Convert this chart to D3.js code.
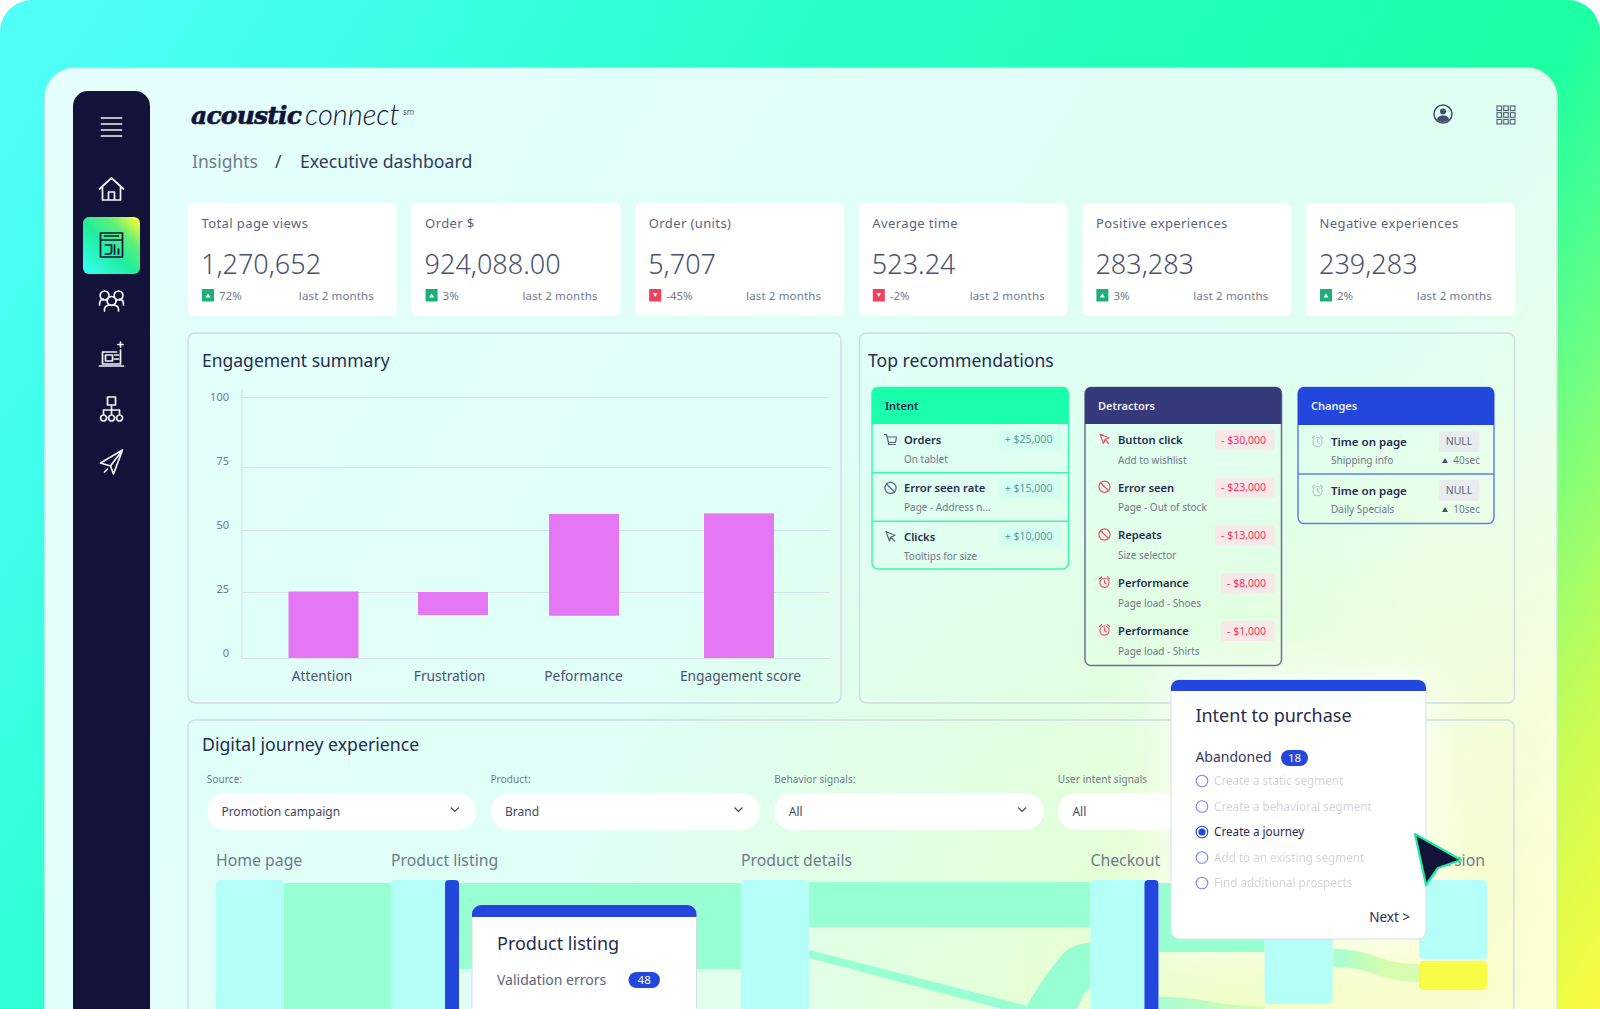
<!DOCTYPE html>
<html>
<head>
<meta charset="utf-8">
<title>acoustic connect - Executive dashboard</title>
<script src="https://cdn.jsdelivr.net/npm/d3@7"></script>
<style>
  html, body { margin: 0; padding: 0; background: #fff; }
  svg { display: block; }
  text { font-family: "Noto Sans", sans-serif; }
</style>
</head>
<body>
<svg id="vis" width="1600" height="1009"></svg>
<script>
'use strict';

// KPI cards
var kpiLabels = ['Total page views', 'Order $', 'Order (units)', 'Average time', 'Positive experiences', 'Negative experiences'];
var kpiValues = ['1,270,652', '924,088.00', '5,707', '523.24', '283,283', '239,283'];
var kpiDeltas = [72, 3, -45, -2, 3, 2];
var kpiPeriod = 'last 2 months';

// Engagement summary, floating bars
var barCategories = ['Attention', 'Frustration', 'Peformance', 'Engagement score'];
var barLow = [0, 16.3, 16, 0];
var barHigh = [25.2, 25, 56.4, 56.6];
var yTicks = [0, 25, 50, 75, 100];

// Top recommendations
var intentTitles = ['Orders', 'Error seen rate', 'Clicks'];
var intentSubs = ['On tablet', 'Page - Address n...', 'Tooltips for size'];
var intentAmounts = ['+ $25,000', '+ $15,000', '+ $10,000'];
var detractorTitles = ['Button click', 'Error seen', 'Repeats', 'Performance', 'Performance'];
var detractorSubs = ['Add to wishlist', 'Page - Out of stock', 'Size selector', 'Page load - Shoes', 'Page load - Shirts'];
var detractorAmounts = ['- $30,000', '- $23,000', '- $13,000', '- $8,000', '- $1,000'];
var changeTitles = ['Time on page', 'Time on page'];
var changeSubs = ['Shipping info', 'Daily Specials'];
var changeValues = ['NULL', 'NULL'];
var changeDeltas = ['40sec', '10sec'];

// Digital journey filters
var filterLabels = ['Source:', 'Product:', 'Behavior signals:', 'User intent signals'];
var filterValues = ['Promotion campaign', 'Brand', 'All', 'All'];

// Journey stages, positions and flows in percent of the journey area
var stageLabels = ['Home page', 'Product listing', 'Product details', 'Checkout', '', 'Conversion'];
var stageStart = [0, 13.77, 41.3, 68.8, 82.5, 94.65];
var nodeStage = [0, 1, 2, 3, 4, 5];
var nodeTop = [0, 0, 0, 0, 0, 0];
var nodeBottom = [110, 110, 110, 110, 96.1, 61.2];
var dropStages = [1, 3];
var flowFrom = [5.35, 19.1, 46.66, 74.2];
var flowTo = [13.77, 41.3, 68.8, 82.5];
var flowTop = [2.3, 2.3, 1.6, 2.3];
var flowBottom = [110, 69, 36.4, 55.8];
var thinX = [46.66, 68.8];
var thinTop = [54.3, 110];
var thinBottom = [60.5, 118];
var riseX = [63.65, 65.6, 67, 67.6, 68.4, 68.8];
var riseTop = [100, 70, 54, 51, 49, 48];
var riseBottom = [100, 100, 100, 100, 87, 84];
var lowX = [74.2, 82.5];
var lowTop = [90.7, 98];
var lowBottom = [110, 110];
var exitX = [87.9, 94.65];
var exitTop = [53.5, 65.1];
var exitBottom = [67.4, 79];
var yellowNode = [62.8, 85.3];

// Intent popup
var popupOptions = ['Create a static segment', 'Create a behavioral segment', 'Create a journey', 'Add to an existing segment', 'Find additional prospects'];
var popupSelected = 2;

var INK = '#262c4f', GREY = '#5b667c', SOFT = '#6f7a8c', BLUE = '#2347dd', NAVY = '#131339';
var GREEN = '#1affab', INDIGO = '#36397a', FLOW = '#98ffd2', NODE = '#b5fff9';

var svg = d3.select('#vis');
var defs = svg.append('defs');

// small helper, y is the vertical centre of the text
function label(parent, x, y, str, size, fill, opts) {
    opts = opts || {};
    return parent.append('text')
        .attr('x', x)
        .attr('y', y)
        .attr('dy', '.35em')
        .attr('font-size', size)
        .attr('fill', fill)
        .attr('font-weight', opts.weight || 400)
        .attr('text-anchor', opts.anchor || 'start')
        .attr('opacity', opts.opacity === undefined ? 1 : opts.opacity)
        .style('letter-spacing', opts.spacing || null)
        .text(str);
}

function gradient(id, stops, x1, y1, x2, y2) {
    var g = defs.append('linearGradient').attr('id', id)
        .attr('gradientUnits', 'userSpaceOnUse')
        .attr('x1', x1).attr('y1', y1).attr('x2', x2).attr('y2', y2);
    stops.forEach(function (s) {
        g.append('stop').attr('offset', s[0]).attr('stop-color', s[1]);
    });
}

gradient('bg', [[0, '#52fff8'], [0.15, '#40feec'], [0.285, '#30ffd4'], [0.4, '#28ffc6'], [0.6, '#1effb2'], [0.715, '#1cffa2'], [0.807, '#6bff85'], [0.908, '#c8fc55'], [1, '#fbfb40']], 0, 0, 1600, 1009);
gradient('tile', [[0, '#36fff0'], [0.45, '#1fee9c'], [0.72, '#5cf07a'], [1, '#fbfb38']], 86, 272, 138, 219);
gradient('exit', [[0, '#a4ffcf'], [0.6, '#d6fcb0'], [1, '#d8fcb0']], 1334, 0, 1419, 0);
gradient('low', [[0, '#a8fdd0'], [1, '#dcfbb0']], 1159, 0, 1265, 0);
var warm = defs.append('radialGradient').attr('id', 'warm')
    .attr('gradientUnits', 'userSpaceOnUse').attr('cx', 1250).attr('cy', 1040).attr('r', 700);
warm.append('stop').attr('offset', 0).attr('stop-color', '#fbfb60').attr('stop-opacity', 0.26);
warm.append('stop').attr('offset', 1).attr('stop-color', '#fbfb60').attr('stop-opacity', 0);
defs.append('filter').attr('id', 'glow').attr('x', '-30%').attr('y', '-30%').attr('width', '160%').attr('height', '160%')
    .append('feGaussianBlur').attr('stdDeviation', 22);
defs.append('clipPath').attr('id', 'pageClip').append('rect').attr('width', 1600).attr('height', 1009);

// background and glass panel
svg.append('rect').attr('width', 1600).attr('height', 1040).attr('rx', 32).attr('fill', 'url(#bg)');
svg.append('rect').attr('x', 45).attr('y', 68).attr('width', 1512).attr('height', 1000).attr('rx', 30)
    .attr('fill', '#fff').attr('fill-opacity', 0.86).attr('stroke', '#d4e6e6').attr('stroke-width', 1.5);
svg.append('rect').attr('x', 46).attr('y', 69).attr('width', 1510).attr('height', 1000).attr('rx', 30).attr('fill', 'url(#warm)');
svg.append('rect').attr('x', 1157).attr('y', 666).attr('width', 283).attr('height', 287)
    .attr('fill', '#fff').attr('opacity', 0.6).attr('filter', 'url(#glow)');

drawSidebar();
drawHeader();
drawKpis();
drawBars();
drawRecommendations();
drawJourney();
drawPopup();

function drawSidebar() {
    var g = svg.append('g');
    g.append('rect').attr('x', 73).attr('y', 91).attr('width', 77).attr('height', 960).attr('rx', 15).attr('fill', NAVY);
    g.append('rect').attr('x', 83).attr('y', 217).attr('width', 57).attr('height', 57).attr('rx', 6).attr('fill', 'url(#tile)');

    function icon(cy, d, stroke) {
        g.append('path').attr('transform', 'translate(111.5,' + cy + ')').attr('d', d)
            .attr('fill', 'none').attr('stroke', stroke || '#f2f4f8').attr('stroke-width', 1.7)
            .attr('stroke-linecap', 'round').attr('stroke-linejoin', 'round');
    }
    icon(127, 'M-10,-9H10M-10,-3H10M-10,3H10M-10,9H10');
    icon(189, 'M-12,0L0,-11L12,0M-9,-2V11H9V-2M-3,11V3H3V11');
    icon(245, 'M-11,-12H11V12H-11ZM-11,-5H11M-7,-9H7M-6,9H-2Q0,9 0,6V0H-6M3,0V9M7,4V9', NAVY);
    icon(298, 'M-7,-7a4.5,4.5 0 1,0 .1,0M7,-7a4.5,4.5 0 1,0 .1,0M0,-1.5a4.5,4.5 0 1,0 .1,0M-12,7Q-12,1 -8,1M12,7Q12,1 8,1M-7,13V11Q-7,7 0,7Q7,7 7,11V13');
    icon(356, 'M-9,-4H5M9,-6V8H-9V-4M-12,10H12M-6,-1H1V5H-6ZM3,-1H7M3,3H7M9,-14V-9M6.5,-11.5H11.5');
    icon(410, 'M-4,-13H4V-5H-4ZM0,-5V0M-8,5V0H8V5M0,0V5M-8,5a3,3 0 1,0 .1,0M0,5a3,3 0 1,0 .1,0M8,5a3,3 0 1,0 .1,0');
    icon(462, 'M11,-12L-11,1L-1,4L2,12ZM11,-12L-1,4M-4,7L-7,10');
}

function drawHeader() {
    var g = svg.append('g');
    label(g, 191, 115, 'acoustic', 25, NAVY, { weight: 700, spacing: '-0.8px' })
        .style('font-family', '"DejaVu Serif", serif').style('font-style', 'italic')
        .attr('stroke', NAVY).attr('stroke-width', 0.6);
    label(g, 305, 115, 'connect', 29, NAVY, { weight: 300 }).style('font-family', 'Lato, sans-serif').style('font-style', 'italic');
    label(g, 403, 112, 'sm', 8, GREY);
    label(g, 192, 162, 'Insights', 17.5, SOFT);
    label(g, 275, 162, '/', 17.5, '#3a4260');
    label(g, 300, 162, 'Executive dashboard', 17.7, '#343b5c');

    // user and apps icons
    var user = g.append('g').attr('transform', 'translate(1443,114)');
    user.append('circle').attr('r', 9).attr('fill', 'none').attr('stroke', '#454e68').attr('stroke-width', 1.5);
    user.append('circle').attr('cy', -2.5).attr('r', 3).attr('fill', '#454e68');
    user.append('path').attr('d', 'M-6,6Q-6,1.5 0,1.5Q6,1.5 6,6Q0,10 -6,6Z').attr('fill', '#454e68');
    var cells = d3.range(9);
    g.append('g').selectAll('rect').data(cells).enter().append('rect')
        .attr('x', function (d) { return 1497 + (d % 3) * 6.7; })
        .attr('y', function (d) { return 106 + Math.floor(d / 3) * 6.7; })
        .attr('width', 4.6).attr('height', 4.6)
        .attr('fill', 'none').attr('stroke', '#5b667c').attr('stroke-width', 1.2);
}

function drawKpis() {
    var cardX = d3.scalePoint().domain(d3.range(kpiLabels.length)).range([188, 1306]);
    var cards = svg.append('g').selectAll('g').data(kpiLabels).enter().append('g')
        .attr('transform', function (d, i) { return 'translate(' + cardX(i) + ',203)'; });
    cards.append('rect').attr('width', 209).attr('height', 113).attr('rx', 6).attr('fill', '#fff');
    cards.each(function (d, i) {
        var c = d3.select(this);
        var up = kpiDeltas[i] >= 0;
        label(c, 13.5, 20, d, 13, GREY, { spacing: '.4px' });
        label(c, 13, 62, kpiValues[i], 27, '#49536d', { weight: 300 });
        c.append('rect').attr('x', 14).attr('y', 86).attr('width', 12).attr('height', 12.5).attr('fill', up ? '#1dae7a' : '#f0405a');
        c.append('path').attr('d', up ? 'M17.5,94.5H22.5L20,90.5Z' : 'M17.5,90H22.5L20,94Z').attr('fill', '#fff');
        label(c, 31, 92.5, kpiDeltas[i] + '%', 11.5, SOFT);
        label(c, 186, 92.5, kpiPeriod, 11.5, SOFT, { anchor: 'end', spacing: '.15px' });
    });
}

function panel(x, y, w, h) {
    svg.append('rect').attr('x', x).attr('y', y).attr('width', w).attr('height', h).attr('rx', 7)
        .attr('fill', 'none').attr('stroke', '#cfdde5').attr('stroke-width', 1.5);
}

function drawBars() {
    panel(188, 333, 653, 370);
    label(svg, 202, 361, 'Engagement summary', 17.5, INK);

    var y = d3.scaleLinear().domain(yTicks).range([658, 592, 530, 467, 397]);
    var x = d3.scaleOrdinal().domain(barCategories).range([323.5, 453, 584, 739]);
    // the tick labels sit on an even spacing that is not quite the one of the grid lines
    var yLabel = d3.scaleLinear().domain([0, 100]).range([653, 397]);
    var labelShift = [-2, -4, -1, 1];
    var barWidth = 70;

    var yAxis = svg.append('g').attr('transform', 'translate(242,0)')
        .call(d3.axisLeft(y).tickValues(yTicks).tickSize(-588).tickPadding(13));
    yAxis.select('.domain').remove();
    yAxis.selectAll('.tick line').attr('stroke', '#d4e4e6').attr('stroke-width', 1.2);
    yAxis.selectAll('.tick text').attr('fill', SOFT).attr('font-size', 11)
        .attr('y', function (d) { return yLabel(d) - y(d); });
    svg.append('line').attr('x1', 242).attr('x2', 242).attr('y1', 390).attr('y2', 658)
        .attr('stroke', '#d4e4e6').attr('stroke-width', 1.2);

    svg.append('g').selectAll('.bar').data(barCategories).enter().append('rect')
        .attr('class', 'bar')
        .attr('x', function (d) { return x(d) - barWidth / 2; })
        .attr('y', function (d, i) { return y(barHigh[i]); })
        .attr('width', barWidth)
        .attr('height', function (d, i) { return y(barLow[i]) - y(barHigh[i]); })
        .attr('fill', '#e577f5');

    var xAxis = svg.append('g').attr('transform', 'translate(0,658)')
        .call(d3.axisBottom(x).tickSize(0).tickPadding(13));
    xAxis.select('.domain').remove();
    xAxis.selectAll('.tick text').attr('fill', '#4a5470').attr('font-size', 13.8)
        .attr('dx', function (d, i) { return labelShift[i]; });
}

function pillRow(parent, right, cy, str, bg, fg) {
    var t = label(parent, right - 8.6, cy, str, 10.5, fg, { anchor: 'end' });
    var w = t.node().getComputedTextLength();
    parent.insert('rect', 'text').attr('x', right - 8.6 - w - 6).attr('y', cy - 10).attr('width', w + 14.6).attr('height', 20).attr('rx', 2).attr('fill', bg);
}

function rowIcon(parent, x, cy, kind, color, opacity) {
    var g = parent.append('g').attr('transform', 'translate(' + x + ',' + cy + ')')
        .attr('fill', 'none').attr('stroke', color).attr('stroke-width', 1.2).attr('opacity', opacity || 1)
        .attr('stroke-linecap', 'round').attr('stroke-linejoin', 'round');
    if (kind === 'cart') {
        g.append('path').attr('d', 'M-6,-5H-4L-2,3H5L6,-2.5H-3.5M-2,3V5H5');
    } else if (kind === 'ban') {
        g.append('circle').attr('r', 5.6);
        g.append('path').attr('d', 'M-4,-4L4,4');
    } else if (kind === 'click') {
        g.append('path').attr('d', 'M-4.5,-5L4.5,-1L0.5,0.5L-1,4.5ZM0.5,0.5L4,4.5');
    } else {
        g.append('circle').attr('cy', 0.6).attr('r', 4.6);
        g.append('path').attr('d', 'M0,-2V0.6L1.8,1.8M-5,-3.5L-3,-5.3M5,-3.5L3,-5.3');
    }
}

function recCard(x, w, h, headH, title, color, border, headInk) {
    var g = svg.append('g');
    g.append('rect').attr('x', x).attr('y', 387.5).attr('width', w).attr('height', h).attr('rx', 6)
        .attr('fill', 'none').attr('stroke', border).attr('stroke-width', 1.5);
    g.append('path').attr('d', 'M' + x + ',' + (387 + headH) + 'V393a6,6 0 0,1 6,-6H' + (x + w - 6) + 'a6,6 0 0,1 6,6V' + (387 + headH) + 'Z').attr('fill', color);
    label(g, x + 13, 406, title, 11, headInk, { weight: 600 });
    return g;
}

function drawRecommendations() {
    panel(859.5, 333, 655, 370);
    label(svg, 868, 361, 'Top recommendations', 17.6, INK);

    // Intent card
    var a = recCard(872, 196.5, 181.5, 37, 'Intent', GREEN, '#3df5b4', '#1f2a4d');
    var intentIcons = ['cart', 'ban', 'click'];
    var intentRows = d3.scalePoint().domain(d3.range(3)).range([440, 537]);
    intentTitles.forEach(function (t, i) {
        var cy = intentRows(i);
        label(a, 904, cy, t, 11.2, INK, { weight: 600 });
        label(a, 904, cy + 19, intentSubs[i], 10, SOFT);
        pillRow(a, 1061, cy - 0.5, intentAmounts[i], '#d2fff2', '#55a09c');
        rowIcon(a, 890.5, cy - 0.5, intentIcons[i], '#5b667c');
    });
    [472.7, 521.3].forEach(function (sy) {
        a.append('line').attr('x1', 872).attr('x2', 1068.5).attr('y1', sy).attr('y2', sy).attr('stroke', '#3df5b4').attr('stroke-width', 1.5);
    });

    // Detractors card
    var b = recCard(1085, 196.5, 278, 37, 'Detractors', INDIGO, '#6c6f99', '#eef0fb');
    var detractorIcons = ['click', 'ban', 'ban', 'clock', 'clock'];
    var detractorRows = d3.scalePoint().domain(d3.range(5)).range([440, 631]);
    detractorTitles.forEach(function (t, i) {
        var cy = detractorRows(i);
        label(b, 1118, cy, t, 11.2, INK, { weight: 600 });
        label(b, 1118, cy + 20, detractorSubs[i], 10, SOFT);
        pillRow(b, 1274.6, cy, detractorAmounts[i], '#f8e8e8', '#f0355a');
        rowIcon(b, 1104.5, cy - 1, detractorIcons[i], '#f0506a');
    });

    // Changes card
    var c = recCard(1298, 196, 136, 38, 'Changes', BLUE, '#5f82ea', '#eef2ff');
    var changeRows = d3.scalePoint().domain(d3.range(2)).range([441.5, 490.5]);
    changeTitles.forEach(function (t, i) {
        var cy = changeRows(i);
        label(c, 1331, cy, t, 11.5, INK, { weight: 600 });
        label(c, 1331, cy + 19, changeSubs[i], 10, SOFT);
        c.append('rect').attr('x', 1439).attr('y', cy - 10.5).attr('width', 40.5).attr('height', 21).attr('rx', 2).attr('fill', '#e8ecef');
        label(c, 1459, cy - 0.5, changeValues[i], 10.5, GREY, { anchor: 'middle' });
        label(c, 1480, cy + 19, changeDeltas[i], 10, SOFT, { anchor: 'end' });
        c.append('path').attr('transform', 'translate(1445,' + (cy + 19) + ')').attr('d', 'M-3,2.5H3L0,-2.5Z').attr('fill', '#4a5470');
        rowIcon(c, 1317.5, cy, 'clock', '#a9b8c8', 0.8);
    });
    c.append('line').attr('x1', 1298).attr('x2', 1494).attr('y1', 474).attr('y2', 474).attr('stroke', '#5f82ea').attr('stroke-width', 1.5);
}

function drawJourney() {
    panel(188, 720, 1326, 340);
    label(svg, 202, 745, 'Digital journey experience', 17.7, INK);

    var filterX = d3.scalePoint().domain(d3.range(filterLabels.length)).range([206.8, 1057.8]);
    filterLabels.forEach(function (t, i) {
        var x = filterX(i);
        label(svg, x, 779, t, 10, SOFT, { spacing: '.1px' });
        svg.append('rect').attr('x', x).attr('y', 793).attr('width', 269.5).attr('height', 37).attr('rx', 18.5).attr('fill', '#fff');
        label(svg, x + 14.6, 812, filterValues[i], 12, '#3f4868');
        svg.append('path').attr('transform', 'translate(' + (x + 248) + ',810)').attr('d', 'M-4,-2.5L0,1.5L4,-2.5')
            .attr('fill', 'none').attr('stroke', '#3f4868').attr('stroke-width', 1.2);
    });

    var jx = d3.scaleLinear().domain([0, 100]).range([216, 1487]);
    var jy = d3.scaleLinear().domain([0, 100]).range([880, 1009]);
    var nodeWidth = jx(5.35) - jx(0);
    var dropWidth = jx(1.1) - jx(0);
    var g = svg.append('g').attr('clip-path', 'url(#pageClip)');

    var area = d3.area()
        .x(function (d) { return jx(d[0]); })
        .y0(function (d) { return jy(d[1]); })
        .y1(function (d) { return jy(d[2]); });

    function edges(xs, tops, bottoms) {
        return xs.map(function (v, i) { return [v, tops[i], bottoms[i]]; });
    }

    flowFrom.forEach(function (v, i) {
        g.append('path').attr('fill', FLOW)
            .attr('d', area.curve(d3.curveLinear)(edges([v, flowTo[i]], [flowTop[i], flowTop[i]], [flowBottom[i], flowBottom[i]])));
    });
    g.append('path').attr('fill', FLOW).attr('d', area.curve(d3.curveLinear)(edges(thinX, thinTop, thinBottom)));
    g.append('path').attr('fill', FLOW).attr('d', area.curve(d3.curveMonotoneX)(edges(riseX, riseTop, riseBottom)));
    g.append('path').attr('fill', 'url(#low)').attr('d', area.curve(d3.curveBumpX)(edges(lowX, lowTop, lowBottom)));
    g.append('path').attr('fill', 'url(#exit)').attr('d', area.curve(d3.curveBumpX)(edges(exitX, exitTop, exitBottom)));

    // nodes
    g.selectAll('.node').data(nodeStage).enter().append('rect')
        .attr('class', 'node')
        .attr('x', function (d) { return jx(stageStart[d]); })
        .attr('y', function (d, i) { return jy(nodeTop[i]); })
        .attr('width', nodeWidth)
        .attr('height', function (d, i) { return jy(nodeBottom[i]) - jy(nodeTop[i]); })
        .attr('rx', 4)
        .attr('fill', NODE);
    g.selectAll('.drop').data(dropStages).enter().append('rect')
        .attr('class', 'drop')
        .attr('x', function (d) { return jx(stageStart[d]) + nodeWidth - dropWidth; })
        .attr('y', jy(0))
        .attr('width', dropWidth)
        .attr('height', jy(110) - jy(0))
        .attr('rx', 4)
        .attr('fill', BLUE);
    g.append('rect').attr('x', jx(stageStart[5])).attr('y', jy(yellowNode[0])).attr('width', nodeWidth)
        .attr('height', jy(yellowNode[1]) - jy(yellowNode[0])).attr('rx', 5).attr('fill', '#f9fb45');

    stageLabels.forEach(function (t, i) {
        if (!t) { return; }
        if (i === stageLabels.length - 1) {
            label(svg, jx(100) - 2, 860.5, t, 15.8, SOFT, { anchor: 'end' });
        } else {
            label(svg, jx(stageStart[i]), 860.5, t, 15.8, SOFT);
        }
    });

    // Product listing card on top of the flows
    var cx = 472, cy = 905;
    svg.append('rect').attr('x', cx).attr('y', cy).attr('width', 224.5).attr('height', 130).attr('rx', 9)
        .attr('fill', '#fff').attr('stroke', '#cfdbe6');
    svg.append('path').attr('d', 'M' + cx + ',917V914a9,9 0 0,1 9,-9H' + (cx + 215.5) + 'a9,9 0 0,1 9,9V917Z').attr('fill', BLUE);
    label(svg, 497, 944, 'Product listing', 18, INK);
    label(svg, 497, 980, 'Validation errors', 14, GREY);
    svg.append('rect').attr('x', 628.5).attr('y', 972).attr('width', 31.5).attr('height', 16).attr('rx', 8).attr('fill', BLUE);
    label(svg, 644.2, 980, '48', 11.5, '#fff', { anchor: 'middle' });
}

function drawPopup() {
    var x = 1171, y = 680, w = 255, h = 259;
    svg.append('rect').attr('x', x).attr('y', y).attr('width', w).attr('height', h).attr('rx', 8)
        .attr('fill', '#fff').attr('stroke', '#d3dfe8');
    svg.append('path').attr('d', 'M' + x + ',691V688a8,8 0 0,1 8,-8H' + (x + w - 8) + 'a8,8 0 0,1 8,8V691Z').attr('fill', BLUE);
    label(svg, 1195.4, 716, 'Intent to purchase', 18, INK);
    label(svg, 1195.4, 757, 'Abandoned', 14, '#343b5c');
    svg.append('rect').attr('x', 1281).attr('y', 750).attr('width', 27).attr('height', 16).attr('rx', 8).attr('fill', BLUE);
    label(svg, 1294.5, 758, '18', 11.5, '#fff', { anchor: 'middle' });

    var rows = d3.scalePoint().domain(d3.range(popupOptions.length)).range([781, 883]);
    popupOptions.forEach(function (t, i) {
        var on = i === popupSelected;
        svg.append('circle').attr('cx', 1202).attr('cy', rows(i)).attr('r', 5.8)
            .attr('fill', 'none').attr('stroke', BLUE).attr('stroke-width', 1.1).attr('opacity', on ? 1 : 0.65);
        if (on) {
            svg.append('circle').attr('cx', 1202).attr('cy', rows(i)).attr('r', 3.6).attr('fill', BLUE);
        }
        label(svg, 1214, rows(i), t, 11.7, on ? '#262c4f' : '#5b667c', { opacity: on ? 1 : 0.28 });
    });
    label(svg, 1410, 917, 'Next >', 13.5, INK, { anchor: 'end' });

    // mouse pointer
    svg.append('path').attr('d', 'M1415,834L1461,860L1438,868L1426,885Z')
        .attr('fill', NAVY).attr('stroke', '#1fe8a0').attr('stroke-width', 2.2).attr('stroke-linejoin', 'round');
}
</script>
</body>
</html>
